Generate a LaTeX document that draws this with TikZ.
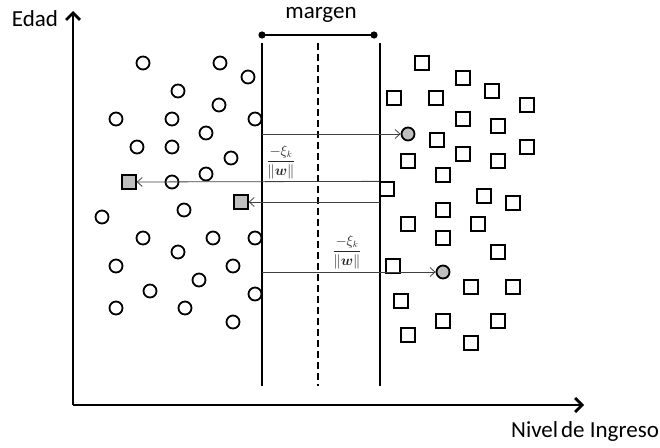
\documentclass[tikz,border=0pt]{standalone}
\usepackage{fontspec}
\setmainfont{Carlito}
\usepackage{amsmath}
\usetikzlibrary{arrows.meta}

\tikzset{
	eje/.style={line width=2.8pt, -{Straight Barb[length=7pt,width=14pt]}},
	borde/.style={line width=2.5pt},
	punto/.style={circle, draw, line width=1.8pt, minimum size=13pt, inner sep=0pt},
	cuadro/.style={rectangle, draw, line width=1.8pt, minimum size=13.5pt, inner sep=0pt},
	malo/.style={fill=black!25},
	flecha/.style={line width=0.8pt, draw=black!75, -{Straight Barb[length=5pt,width=9pt]}},
	texto/.style={font=\fontsize{23}{27}\selectfont},
	etiq/.style={font=\fontsize{13.5}{16}\selectfont, text=black!85},
}

\begin{document}
\begin{tikzpicture}[x=1pt,y=-1pt]
	\useasboundingbox (0,0) rectangle (660,447);

	% ejes
	\coordinate (o) at (73,405);
	\coordinate (ye) at (73,11);
	\coordinate (xe) at (584,405);
	\draw[eje] (o) -- (ye);
	\draw[eje] (o) -- (xe);
	\node[texto] (edad) at (35,19) {Edad};
	\node[texto] (ingreso) at (585,431) {Nivel\kern3pt de Ingreso};

	% margen y rectas
	\coordinate (i1) at (262,43);  \coordinate (i2) at (262,386);
	\coordinate (d1) at (380,43);  \coordinate (d2) at (380,386);
	\coordinate (h1) at (318,43);  \coordinate (h2) at (318,386);
	\draw[borde] (i1) -- (i2);
	\draw[borde] (d1) -- (d2);
	\draw[borde, dash pattern=on 7pt off 4pt] (h1) -- (h2);
	\coordinate (m1) at (258.5,35);
	\coordinate (m2) at (377.5,35);
	\draw[borde, {Circle[length=7pt]}-{Circle[length=7pt]}] (m1) -- (m2);
	\node[texto] (margen) at (321,15) {margen};

	% clase de circulos
	\foreach \x/\y [count=\i] in {143/63, 220/63, 248/77, 178/91, 219/105, 116/119,
		172/119, 255/119, 206/133, 137/147, 172/147, 231/158, 206/174, 172/182,
		184/210, 102/217, 143/238, 213/238, 255/238, 178/252, 116/266, 233/266,
		199/280, 150/291, 255/294, 116/308, 185/308, 233/322}
		\node[punto] (c\i) at (\x,\y) {};

	% clase de cuadros
	\foreach \x/\y [count=\i] in {422/63, 463/78, 492/91, 394/98, 436/98, 527/105,
		463/119, 498/126, 437/140, 527/147, 408/161, 463/154, 498/161, 443/175,
		484/196, 513/203, 443/210, 408/224, 478/224, 443/238, 498/252, 393/266,
		471/287, 513/287, 401/301, 443/321, 498/321, 408/335, 471/343}
		\node[cuadro] (s\i) at (\x,\y) {};
	\node[cuadro] (sb) at (387,189) {};

	% puntos mal clasificados
	\node[punto, malo] (gc1) at (408,134) {};
	\node[punto, malo] (gc2) at (443,272) {};
	\node[cuadro, malo] (gs1) at (129,182) {};
	\node[cuadro, malo] (gs2) at (241,202) {};

	% holguras
	\coordinate (a1) at (262,134);
	\coordinate (a3) at (380,202);
	\coordinate (a4) at (262,272);
	\draw[flecha] (a1) -- (gc1);
	\draw[flecha] (sb.north west) -- (gs1);
	\draw[flecha] (a3) -- (gs2);
	\draw[flecha] (a4) -- (gc2);
	\node[etiq] (f1) at (281,162) {$\dfrac{-\xi_k}{\|\boldsymbol{w}\|}$};
	\node[etiq] (f2) at (347,252) {$\dfrac{-\xi_k}{\|\boldsymbol{w}\|}$};
\end{tikzpicture}
\end{document}
